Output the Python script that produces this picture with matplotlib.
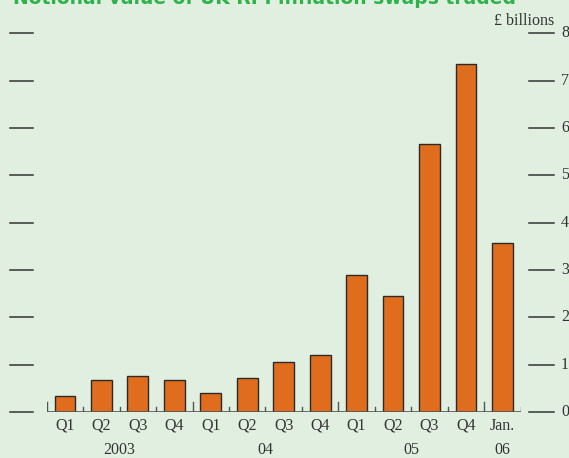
import matplotlib.pyplot as plt
from matplotlib.transforms import blended_transform_factory

quarters = ["Q1", "Q2", "Q3", "Q4", "Q1", "Q2", "Q3", "Q4",
            "Q1", "Q2", "Q3", "Q4", "Jan."]
values = [0.34, 0.68, 0.77, 0.68, 0.40, 0.71, 1.05, 1.20,
          2.89, 2.45, 5.65, 7.36, 3.57]
years = ["2003", "04", "05", "06"]
year_spans = [(0, 4), (4, 8), (8, 12), (12, 13)]
y_ticks = [0, 1, 2, 3, 4, 5, 6, 7, 8]

bg = "#e1efe1"
serif = "Liberation Serif"
fig = plt.figure(figsize=(5.69, 4.58), dpi=100, facecolor=bg)
ax = fig.add_axes([0.0821, 0.1004, 0.8330, 0.8271])
ax.set_facecolor(bg)

x = [i + 0.5 for i in range(len(values))]
ax.bar(x, values, width=0.57, color="#e06d1e", edgecolor="#2a2a2a",
       linewidth=1.0, zorder=3)

ax.set_xlim(0, len(values))
ax.set_ylim(0, 8)
for s in ax.spines.values():
    s.set_visible(False)
ax.set_xticks([])
ax.set_yticks([])

# baseline with small ticks pointing up
ax.axhline(0, color="#555555", lw=1.2, zorder=4)
year_starts = [a for a, b in year_spans]
for i in range(len(values) + 1):
    h = 0.21 if i in year_starts else 0.1
    ax.plot([i, i], [0, h], color="#555555", lw=1.0, zorder=4)

# detached tick marks both sides
tr = blended_transform_factory(fig.transFigure, ax.transData)
for v in y_ticks:
    ax.plot([0.0176, 0.058], [v, v], color="#333333", lw=1.1,
            transform=tr, clip_on=False)
    ax.plot([0.9297, 0.9736], [v, v], color="#333333", lw=1.1,
            transform=tr, clip_on=False)
    ax.text(0.986, v, str(v), transform=tr, ha="left", va="center",
            fontsize=11.5, family=serif, color="#333333")

tr2 = blended_transform_factory(ax.transData, fig.transFigure)
for xi, q in zip(x, quarters):
    ax.text(xi, 1 - 426 / 458, q, transform=tr2, ha="center", va="center",
            fontsize=11.5, family=serif, color="#333333")
for (a, b), yr in zip(year_spans, years):
    ax.text((a + b) / 2, 1 - 450 / 458, yr, transform=tr2, ha="center",
            va="center", fontsize=11.5, family=serif, color="#333333")

fig.text(0.9736, 1 - 21 / 458, "£ billions", ha="right", va="center",
         fontsize=11.5, family=serif, color="#333333")
fig.text(13 / 569, 1 - 4 / 458, "Notional value of UK RPI inflation swaps traded",
         ha="left", va="baseline", fontsize=13.5, fontweight="bold",
         color="#2db34a")

plt.savefig("out.png", dpi=100, facecolor=bg)
